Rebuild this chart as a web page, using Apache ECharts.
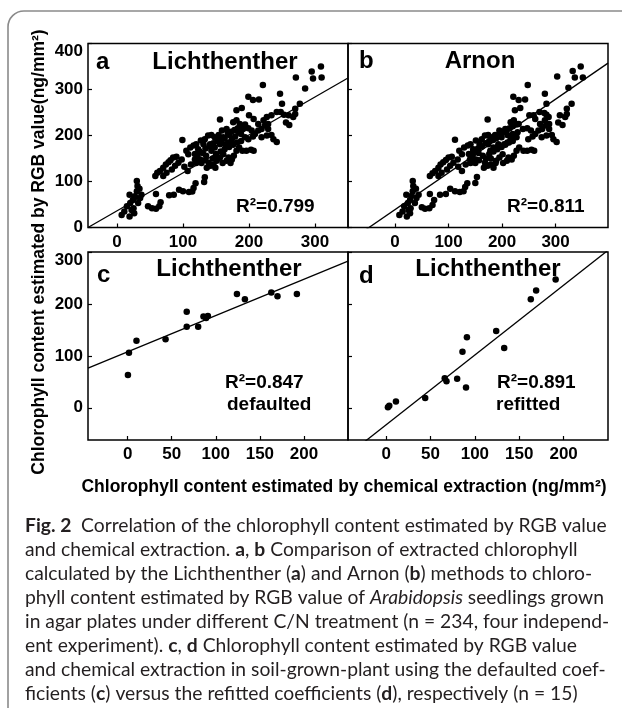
<!DOCTYPE html>
<html>
<head>
<meta charset="utf-8">
<script src="https://cdn.jsdelivr.net/npm/echarts@6/dist/echarts.min.js"></script>
<style>
  html, body { margin: 0; padding: 0; background: #fff; }
  #chart { width: 622px; height: 708px; }
</style>
</head>
<body>
<div id="chart"></div>
<script>
// panel a: Lichthenther (x) vs RGB estimate (y)
const pointsA = [
  [7,27],[11,35],[19,24],[15,46],[20,53],[24,60],[27,68],[30,79],[31,90],[30,101],[19,71],[25,42],[32,53],[35,64],[37,71],[34,84],[26,31],[22,38],
  [47,46],[53,42],[59,41],[64,46],[66,55],[59,73],[79,70],[86,71],[94,82],[100,79],[109,77],[114,78],[119,96],[116,86],[132,99],[133,109],
  [58,112],[61,119],[65,123],[70,130],[74,137],[78,142],[81,146],[85,152],[90,154],[75,119],[70,112],[83,126],[88,134],[93,141],[98,148],
  [99,190],[105,167],[108,159],[111,174],[116,178],[120,181],[123,170],[127,189],[131,181],[133,192],[138,200],[143,201],[148,196],[154,201],[159,211],[156,235],
  [102,132],[107,123],[112,137],[118,148],[122,157],[126,148],[130,162],[135,156],[139,141],[142,134],[146,137],[149,130],[136,130],[151,145],[156,152],
  [161,159],[166,145],[169,152],[174,148],[177,156],[181,167],[185,174],[190,167],[196,167],[203,169],[207,167],
  [164,181],[169,185],[174,192],[179,198],[184,207],[191,214],[199,216],[204,211],[209,203],[214,211],[219,214],[224,222],[229,225],
  [181,255],[189,260],[199,284],[206,277],[215,278],[221,310],[176,229],[181,233],[186,225],[166,214],[170,201],[161,196],[156,181],[148,174],[143,167],[141,181],
  [199,192],[206,198],[219,196],[227,200],[234,201],[237,192],[242,186],[229,214],[234,244],[242,251],[248,251],[253,245],[247,291],[250,269],
  [256,228],[261,223],[260,244],[267,240],[270,258],[270,247],[277,269],[271,326],[285,302],[295,339],[297,324],[309,350],[310,326],
  [200,244],[207,236],[214,225],[222,233],[227,240],
  [118,160],[125,165],[134,172],[140,176],[146,183],[152,188],[158,190],[163,194],[168,205],[173,208],[178,212],[183,216],[188,220],[194,224],
  [150,160],[157,165],[163,170],[170,175],[176,180],[182,185],[188,188],[194,196],[128,140],[134,146],[120,140],[160,140],[172,140],[145,150],[153,150],[188,203]
];

// panel b: Arnon (x) vs RGB estimate (y)
const pointsB = [
  [8,27],[14,35],[22,24],[17,46],[24,53],[28,60],[31,69],[33,79],[34,90],[33,101],[21,71],[29,42],[37,53],[40,64],[44,71],[39,84],[28,31],[25,38],
  [50,44],[56,41],[64,42],[70,49],[73,60],[65,73],[84,71],[95,73],[103,84],[112,79],[121,77],[128,79],[135,96],[131,88],[150,97],[153,110],
  [65,112],[70,118],[75,123],[81,130],[85,137],[90,142],[95,147],[100,152],[106,154],[87,119],[81,112],[97,126],[103,134],[109,141],[117,148],
  [112,191],[120,167],[125,159],[129,174],[136,178],[141,181],[146,170],[151,189],[158,181],[162,192],[168,200],[174,201],[181,196],[187,201],[195,211],[173,235],
  [118,132],[125,123],[132,137],[140,148],[145,157],[151,148],[156,162],[164,156],[168,141],[173,134],[179,137],[184,130],[166,130],[189,145],[195,152],
  [201,159],[209,145],[212,152],[218,148],[222,156],[227,167],[232,174],[240,167],[247,167],[255,169],[260,167],
  [204,181],[210,185],[216,192],[222,198],[229,207],[239,214],[247,216],[254,211],[262,203],[268,211],[275,214],[282,222],[288,225],
  [224,255],[234,260],[221,284],[231,277],[243,278],[248,310],[216,229],[222,233],[231,225],[206,214],[210,201],[199,196],[193,181],[184,174],[178,167],[174,181],
  [249,192],[257,198],[274,196],[283,200],[293,201],[296,192],[302,186],[288,214],[259,244],[270,251],[279,249],[283,245],[280,291],[283,269],
  [305,228],[313,223],[308,244],[318,240],[321,258],[321,247],[330,269],[303,328],[324,304],[332,340],[336,326],[347,350],[351,326],
  [251,244],[262,236],[271,225],[280,233],[287,240],
  [138,160],[146,165],[155,172],[162,176],[169,183],[176,188],[183,190],[189,194],[196,205],[202,208],[208,212],[214,216],[220,220],[227,224],
  [176,160],[184,165],[191,170],[199,175],[206,180],[213,185],[220,188],[227,196],[150,140],[157,146],[141,140],[188,140],[202,140],[170,150],[179,150],[220,203]
];

// panel c: chemical extraction vs RGB estimate, defaulted coefficients
const pointsC = [
  [1.5,106],[0.3,63],[10,129],[43,132],[67,185],[67,156],[80,156],[86,176],[91,177],[89,173],
  [124,219],[133,209],[163,222],[170,215],[192,219]
];

// panel d: chemical extraction vs RGB estimate, refitted coefficients
const pointsD = [
  [2,1],[3.5,4],[11,12],[44,19],[66,57],[68,51],[80,56],[90,39],[86,108],[91,136],
  [124,148],[133,115],[163,209],[169,226],[191,247]
];

// regression lines: [slope, intercept]
const fitA = [0.825, 36.3];
const fitB = [0.80, 39];
const fitC = [0.698, 108];
const fitD = [1.344, -32.7];

const xRangeA = [-44, 350];
const xRangeB = [-88, 398];
const xRangeC = [-45, 250];
const xRangeD = [-43, 250];
const yRangeAB = [0, 400];
const yRangeCD = [-62, 300];

const xTicksAB = [0, 100, 200, 300];
const yTicksAB = [0, 100, 200, 300, 400];
const xTicksCD = [0, 50, 100, 150, 200];
const yTicksCD = [0, 100, 200, 300];

const panelLetters = ['a', 'b', 'c', 'd'];
const panelTitles = ['Lichthenther', 'Arnon', 'Lichthenther', 'Lichthenther'];
const r2Labels = ['R\u00b2=0.799', 'R\u00b2=0.811', 'R\u00b2=0.847', 'R\u00b2=0.891'];
const fitNotes = ['', '', 'defaulted', 'refitted'];

const yTitle = 'Chlorophyll content estimated by RGB value(ng/mm\u00b2)';
const xTitle = 'Chlorophyll content estimated by chemical extraction (ng/mm\u00b2)';

const captionLines = [
  '{b|Fig. 2}\u2002Correlation of the chlorophyll content estimated by RGB value',
  'and chemical extraction. {b|a}, {b|b} Comparison of extracted chlorophyll',
  'calculated by the Lichthenther ({b|a}) and Arnon ({b|b}) methods to chloro-',
  'phyll content estimated by RGB value of {i|Arabidopsis} seedlings grown',
  'in agar plates under different C/N treatment (n = 234, four independ-',
  'ent experiment). {b|c}, {b|d} Chlorophyll content estimated by RGB value',
  'and chemical extraction in soil-grown-plant using the defaulted coef-',
  'ficients ({b|c}) versus the refitted coefficients ({b|d}), respectively (n = 15)'
];

const ARIAL = '"Liberation Sans", Arial, sans-serif';
const CAP = 'Lato, "Noto Sans", sans-serif';

function fitLine(fit, range) {
  return range.map(x => [x, fit[0] * x + fit[1]]);
}

function xAxis(idx, range, ticks) {
  return {
    type: 'value', gridIndex: idx, min: range[0], max: range[1],
    axisLine: { show: false, onZero: false },
    splitLine: { show: false },
    axisTick: { show: true, inside: true, length: 4, customValues: ticks, lineStyle: { color: '#000', width: 1.2 } },
    axisLabel: { customValues: ticks, margin: 6, color: '#000', fontFamily: ARIAL, fontWeight: 'bold', fontSize: 17 }
  };
}

function yAxis(idx, range, ticks, showLabel) {
  const top = ticks[ticks.length - 1];
  return {
    type: 'value', gridIndex: idx, min: range[0], max: range[1],
    axisLine: { show: false, onZero: false },
    splitLine: { show: false },
    axisTick: { show: true, inside: true, length: 4, customValues: ticks, lineStyle: { color: '#000', width: 1.2 } },
    axisLabel: {
      show: showLabel, customValues: ticks, margin: 5, color: '#000',
      fontFamily: ARIAL, fontWeight: 'bold', fontSize: 17,
      formatter: v => (v === top ? '{t|' + v + '}' : String(v)),
      rich: { t: { padding: [16, 0, 0, 0], color: '#000', fontFamily: ARIAL, fontWeight: 'bold', fontSize: 17 } }
    }
  };
}

const grids = [
  { left: 88, top: 43.5, width: 260, height: 184 },
  { left: 348, top: 43.5, width: 260, height: 184 },
  { left: 88, top: 252, width: 260, height: 188 },
  { left: 348, top: 252, width: 260, height: 188 }
].map(g => Object.assign(g, { show: true, borderColor: '#000', borderWidth: 1.5, backgroundColor: 'transparent' }));

const allPoints = [pointsA, pointsB, pointsC, pointsD];
const allFits = [fitA, fitB, fitC, fitD];
const allXRanges = [xRangeA, xRangeB, xRangeC, xRangeD];

const series = [];
allPoints.forEach((pts, i) => {
  series.push({
    type: 'scatter', xAxisIndex: i, yAxisIndex: i, data: pts,
    symbol: 'circle', symbolSize: 6.5, itemStyle: { color: '#000', opacity: 1 }, silent: true
  });
  series.push({
    type: 'line', xAxisIndex: i, yAxisIndex: i, data: fitLine(allFits[i], allXRanges[i]),
    symbol: 'none', clip: true, lineStyle: { color: '#000', width: 1.3 }, silent: true
  });
});

function txt(x, y, text, font, align, extra) {
  return Object.assign({
    type: 'text', x: x, y: y, silent: true, z: 10,
    style: { text: text, font: font, fill: '#000', textAlign: align, textVerticalAlign: 'middle', align: align, verticalAlign: 'middle' }
  }, extra || {});
}

const titleFont = 'bold 24px ' + ARIAL;
const noteFont = 'bold 19px ' + ARIAL;
const graphics = [
  { type: 'rect', z: -1, silent: true, shape: { x: 8, y: 11, width: 700, height: 800, r: 16 },
    style: { fill: 'none', stroke: '#8a8a8a', lineWidth: 1.6 } },
  txt(96, 62, panelLetters[0], titleFont, 'left'),
  txt(225, 62, panelTitles[0], titleFont, 'center'),
  txt(359, 61.5, panelLetters[1], titleFont, 'left'),
  txt(480, 61.5, panelTitles[1], titleFont, 'center'),
  txt(97, 275.5, panelLetters[2], titleFont, 'left'),
  txt(229, 269, panelTitles[2], titleFont, 'center'),
  txt(359, 276, panelLetters[3], titleFont, 'left'),
  txt(488, 269, panelTitles[3], titleFont, 'center'),
  txt(236, 206.5, r2Labels[0], noteFont, 'left'),
  txt(507, 206.5, r2Labels[1], noteFont, 'left'),
  txt(225, 382.5, r2Labels[2], noteFont, 'left'),
  txt(227, 405, fitNotes[2], noteFont, 'left'),
  txt(497, 382.5, r2Labels[3], noteFont, 'left'),
  txt(496, 405, fitNotes[3], noteFont, 'left'),
  txt(39, 252, yTitle, 'bold 17.5px ' + ARIAL, 'center', { rotation: Math.PI / 2 }),
  txt(344, 487, xTitle, 'bold 17.5px ' + ARIAL, 'center')
];

captionLines.forEach((line, i) => {
  graphics.push({
    type: 'text', x: 25, y: 526 + 24 * i, silent: true, z: 10,
    style: {
      text: line, font: '19.3px ' + CAP, fill: '#231f20',
      textAlign: 'left', textVerticalAlign: 'middle', align: 'left', verticalAlign: 'middle',
      rich: {
        b: { font: 'bold 19.3px ' + CAP, fill: '#231f20' },
        i: { font: 'italic 19.3px ' + CAP, fill: '#231f20' }
      }
    }
  });
});

const chart = echarts.init(document.getElementById('chart'));
chart.setOption({
  animation: false,
  backgroundColor: '#fff',
  grid: grids,
  xAxis: [xAxis(0, xRangeA, xTicksAB), xAxis(1, xRangeB, xTicksAB), xAxis(2, xRangeC, xTicksCD), xAxis(3, xRangeD, xTicksCD)],
  yAxis: [yAxis(0, yRangeAB, yTicksAB, true), yAxis(1, yRangeAB, yTicksAB, false), yAxis(2, yRangeCD, yTicksCD, true), yAxis(3, yRangeCD, yTicksCD, false)],
  series: series,
  graphic: graphics
});
</script>
</body>
</html>
